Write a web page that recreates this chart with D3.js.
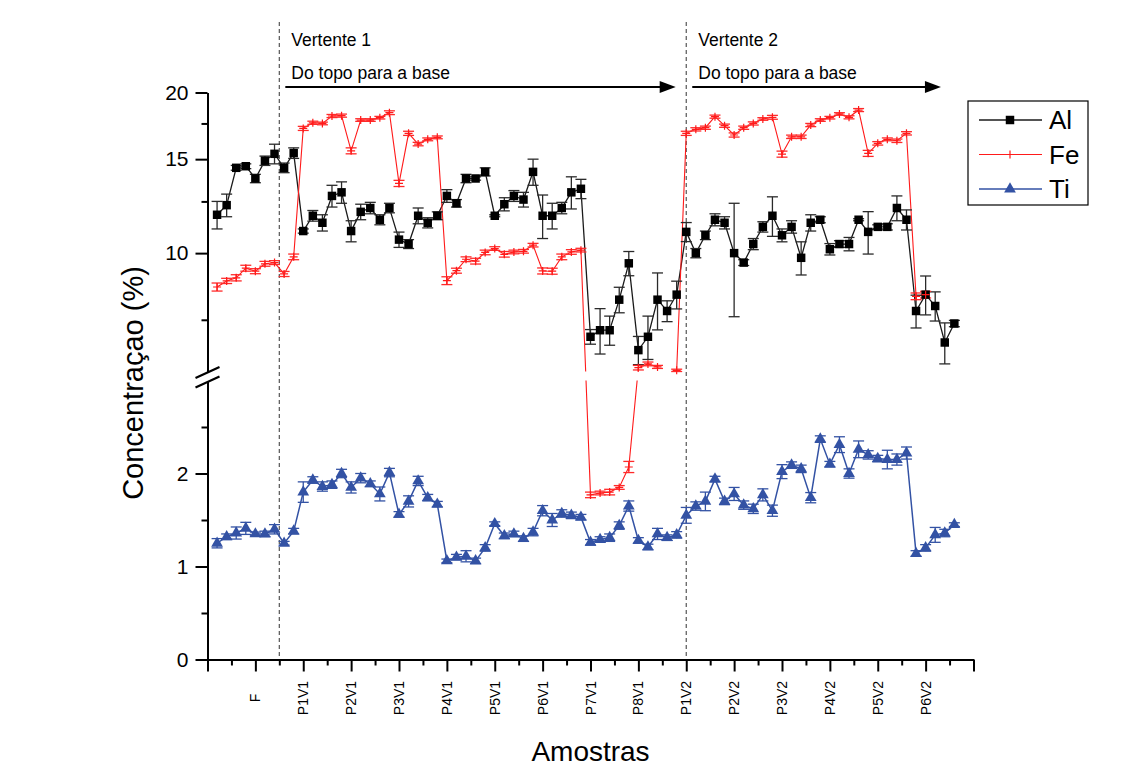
<!DOCTYPE html>
<html>
<head>
<meta charset="utf-8">
<script src="https://cdn.jsdelivr.net/npm/d3@7"></script>
<style>
  body { margin: 0; background: #ffffff; }
  text { font-family: "Liberation Sans", Arial, sans-serif; fill: #000; }
</style>
</head>
<body>
<svg id="chart" width="1124" height="769"></svg>
<script>
// Concentration (%) per sample, in sample order (1..78)
const al = [11.8, 12.3, 14.45, 14.55, 13.8, 14.9, 15.35, 14.45, 15.4, 11.0,
  11.75, 11.4, 12.8, 13.0, 11.0, 11.95, 12.15, 11.55, 12.15, 10.6,
  10.4, 11.75, 11.4, 11.75, 12.8, 12.4, 13.8, 13.8, 14.2, 11.75,
  12.35, 12.8, 12.6, 14.2, 11.75, 11.75, 12.15, 13.0, 13.2, 6.97,
  7.17, 7.17, 8.18, 9.57, 6.58, 6.97, 8.18, 7.79, 8.36, 10.96,
  10.0, 10.8, 11.55, 11.4, 10.0, 9.6, 10.4, 11.2, 11.75, 10.8,
  11.2, 9.8, 11.4, 11.55, 10.17, 10.4, 10.4, 11.55, 10.96, 11.2,
  11.2, 12.15, 11.55, 7.79, 8.36, 7.96, 6.8, 7.38];
const alErr = [0.7, 0.6, 0.15, 0.15, 0.25, 0.3, 0.65, 0.3, 0.35, 0.1,
  0.27, 0.4, 0.6, 0.6, 0.5, 0.4, 0.3, 0.25, 0.25, 0.35,
  0.2, 0.4, 0.25, 0.2, 0.35, 0.2, 0.25, 0.1, 0.25, 0.05,
  0.35, 0.3, 0.4, 0.8, 1.1, 0.65, 0.3, 0.9, 0.55, 0.22,
  0.7, 0.45, 0.45, 0.5, 0.4, 0.65, 1.0, 0.35, 0.5, 0.45,
  0.2, 0.2, 0.3, 0.3, 2.4, 0.12, 0.25, 0.25, 1.0, 0.3,
  0.3, 0.7, 0.4, 0.15, 0.25, 0.15, 0.3, 0.05, 1.0, 0.1,
  0.15, 0.65, 0.5, 0.55, 0.7, 0.5, 0.6, 0.1];

const fe = [8.64, 8.87, 8.99, 9.37, 9.25, 9.55, 9.6, 9.14, 9.84, 17.13,
  17.55, 17.5, 18.07, 18.1, 15.55, 17.76, 17.76, 17.94, 18.33, 13.51,
  16.77, 16.01, 16.34, 16.48, 8.88, 9.27, 9.74, 9.66, 10.03, 10.2,
  9.95, 10.05, 10.08, 10.35, 9.26, 9.25, 9.84, 10.05, 10.13, 1.77,
  1.79, 1.8, 1.85, 2.07, 6.1, 6.2, 6.12, null, 6.03, 16.77,
  17.06, 17.18, 18.02, 17.33, 16.65, 17.18, 17.5, 17.84, 17.97, 15.33,
  16.52, 16.52, 17.38, 17.76, 17.94, 18.23, 17.97, 18.54, 15.38, 16.06,
  16.34, 16.24, 16.77, 8.3, 8.36, null, null, null];
const feErr = [0.15, 0.1, 0.12, 0.12, 0.1, 0.1, 0.08, 0.1, 0.12, 0.15,
  0.12, 0.1, 0.12, 0.12, 0.2, 0.1, 0.1, 0.1, 0.15, 0.18,
  0.15, 0.12, 0.1, 0.1, 0.15, 0.1, 0.1, 0.12, 0.1, 0.08,
  0.12, 0.08, 0.08, 0.08, 0.12, 0.12, 0.12, 0.1, 0.08, 0.03,
  0.02, 0.03, 0.02, 0.06, 0.06, 0.05, 0.04, null, 0.03, 0.15,
  0.12, 0.12, 0.12, 0.12, 0.15, 0.12, 0.12, 0.1, 0.15, 0.2,
  0.12, 0.12, 0.12, 0.1, 0.1, 0.1, 0.12, 0.12, 0.2, 0.12,
  0.1, 0.12, 0.12, 0.12, 0.12, null, null, null];

const ti = [1.25, 1.32, 1.36, 1.41, 1.35, 1.35, 1.40, 1.25, 1.38, 1.80,
  1.93, 1.86, 1.88, 2.00, 1.85, 1.95, 1.89, 1.78, 2.01, 1.56,
  1.70, 1.92, 1.74, 1.67, 1.06, 1.10, 1.11, 1.06, 1.20, 1.46,
  1.33, 1.35, 1.30, 1.37, 1.60, 1.50, 1.57, 1.55, 1.53, 1.26,
  1.29, 1.31, 1.44, 1.65, 1.28, 1.21, 1.35, 1.31, 1.34, 1.55,
  1.65, 1.70, 1.94, 1.70, 1.78, 1.66, 1.62, 1.77, 1.60, 2.02,
  2.09, 2.05, 1.74, 2.37, 2.10, 2.31, 2.00, 2.26, 2.20, 2.16,
  2.15, 2.15, 2.22, 1.14, 1.20, 1.34, 1.36, 1.45];
const tiErr = [0.05, 0.03, 0.065, 0.065, 0.02, 0.03, 0.05, 0.02, 0.03, 0.11,
  0.035, 0.05, 0.04, 0.045, 0.06, 0.05, 0.03, 0.075, 0.045, 0.03,
  0.06, 0.05, 0.035, 0.03, 0.02, 0.03, 0.06, 0.03, 0.035, 0.02,
  0.03, 0.03, 0.03, 0.04, 0.055, 0.07, 0.04, 0.035, 0.03, 0.03,
  0.03, 0.04, 0.04, 0.055, 0.03, 0.03, 0.06, 0.03, 0.035, 0.085,
  0.045, 0.1, 0.03, 0.035, 0.07, 0.045, 0.05, 0.065, 0.06, 0.075,
  0.035, 0.04, 0.055, 0.035, 0.03, 0.085, 0.05, 0.09, 0.045, 0.035,
  0.1, 0.06, 0.065, 0.03, 0.035, 0.08, 0.04, 0.02];

// Sample groups along the x axis
const sampleLabels = ["F", "P1V1", "P2V1", "P3V1", "P4V1", "P5V1", "P6V1", "P7V1", "P8V1",
  "P1V2", "P2V2", "P3V2", "P4V2", "P5V2", "P6V2"];
const labelPositions = [5, 10, 15, 20, 25, 30, 35, 40, 45, 50, 55, 60, 65, 70, 75];
const majorXTicks = [0, 5, 10, 15, 20, 25, 30, 35, 40, 45, 50, 55, 60, 65, 70, 75, 80];
const minorXTicks = [2.5, 7.5, 12.5, 17.5, 22.5, 27.5, 32.5, 37.5, 42.5, 47.5, 52.5, 57.5, 62.5, 67.5, 72.5, 77.5];

// Slope sections (vertentes) and their start positions
const slopeNames = ["Vertente 1", "Vertente 2"];
const slopeStarts = [7.5, 50];
const slopeArrowEnds = [48.9, 76.6];
const slopeCaption = "Do topo para a base";

// Axis ticks for the broken y axis
const upperMajor = [10, 15, 20];
const upperMinor = [7.5, 12.5, 17.5];
const lowerMajor = [0, 1, 2];
const lowerMinor = [0.5, 1.5, 2.5];

const svg = d3.select("#chart");
const defs = svg.append("defs");

const x = d3.scaleLinear().domain([0, 80]).range([207.5, 973.5]);
const yHigh = d3.scaleLog().domain([6, 20]).range([371.5, 92.5]);
const yLow = d3.scaleLinear().domain([0, 3]).range([659.5, 380.5]);
function y(v) {
  if (v >= 6) return yHigh(v);
  if (v <= 3) return yLow(v);
  const t = (v - 3) / 3;
  return yLow(3) + t * (yHigh(6) - yLow(3));
}

// Lines are hidden inside the axis break
const clip = defs.append("clipPath").attr("id", "breakClip");
clip.append("rect").attr("x", 0).attr("y", 0).attr("width", 1124).attr("height", yHigh(6));
clip.append("rect").attr("x", 0).attr("y", yLow(3)).attr("width", 1124).attr("height", 769 - yLow(3));

const series = [
  { name: "Al", values: al, err: alErr, line: "#1a1a1a", bar: "#2a2a2a", fill: "#000", marker: "square", lw: 1.3 },
  { name: "Fe", values: fe, err: feErr, line: "#ff1a1a", bar: "#ff2a2a", fill: "#ff1a1a", marker: "plus", lw: 1.1 },
  { name: "Ti", values: ti, err: tiErr, line: "#3352a4", bar: "#3352a4", fill: "#3352a4", marker: "triangle", lw: 1.5 }
];

// Slope separators
slopeStarts.forEach(s => {
  svg.append("line")
    .attr("x1", x(s)).attr("x2", x(s))
    .attr("y1", 22).attr("y2", yLow(0))
    .attr("stroke", "#555").attr("stroke-width", 1.2)
    .attr("stroke-dasharray", "4,3");
});

// Slope captions and direction arrows
slopeStarts.forEach((s, k) => {
  const gx = x(s) + 12;
  svg.append("text").attr("x", gx).attr("y", 46).attr("font-size", 17.5).text(slopeNames[k]);
  svg.append("text").attr("x", gx).attr("y", 79).attr("font-size", 17.5).text(slopeCaption);
  const x0 = x(s) + 6, x1 = x(slopeArrowEnds[k]);
  svg.append("line").attr("x1", x0).attr("x2", x1 - 14).attr("y1", 87).attr("y2", 87)
    .attr("stroke", "#000").attr("stroke-width", 2);
  svg.append("path")
    .attr("d", `M${x1},87 L${x1 - 16},81 L${x1 - 16},93 Z`)
    .attr("fill", "#000");
});

// Lines
const lineGen = d3.line()
  .defined(d => d.v != null)
  .x(d => x(d.i))
  .y(d => y(d.v));

const prepared = series.map(s => ({
  ...s,
  pts: s.values.map((v, k) => ({ i: k + 1, v: v, e: s.err[k] }))
}));

prepared.forEach(s => {
  svg.append("path")
    .datum(s.pts)
    .attr("d", lineGen)
    .attr("fill", "none")
    .attr("stroke", s.line)
    .attr("stroke-width", s.lw)
    .attr("clip-path", "url(#breakClip)");
});

// Error bars
prepared.forEach(s => {
  const g = svg.append("g").attr("stroke", s.bar).attr("stroke-width", 1.3).attr("fill", "none");
  s.pts.filter(d => d.v != null).forEach(d => {
    const cx = x(d.i), yt = y(d.v + d.e), yb = y(d.v - d.e);
    g.append("line").attr("x1", cx).attr("x2", cx).attr("y1", yt).attr("y2", yb);
    g.append("line").attr("x1", cx - 5.5).attr("x2", cx + 5.5).attr("y1", yt).attr("y2", yt);
    g.append("line").attr("x1", cx - 5.5).attr("x2", cx + 5.5).attr("y1", yb).attr("y2", yb);
  });
});

// Markers
function drawMarker(g, kind, cx, cy, s) {
  if (kind === "square") {
    g.append("path").attr("d", d3.symbol(d3.symbolSquare, 72)())
      .attr("transform", `translate(${cx},${cy})`).attr("fill", s.fill);
  } else if (kind === "triangle") {
    g.append("path").attr("d", d3.symbol(d3.symbolTriangle, 60)())
      .attr("transform", `translate(${cx},${cy})`).attr("fill", s.fill);
  } else {
    g.append("path").attr("d", `M${cx - 4},${cy} H${cx + 4} M${cx},${cy - 4} V${cy + 4}`)
      .attr("stroke", s.fill).attr("stroke-width", 1.2);
  }
}
prepared.forEach(s => {
  const g = svg.append("g");
  s.pts.filter(d => d.v != null).forEach(d => drawMarker(g, s.marker, x(d.i), y(d.v), s));
});

// Y axis (broken: log upper section, linear lower section)
function styleAxis(g) {
  g.selectAll(".domain").attr("stroke", "#000").attr("stroke-width", 2);
  g.selectAll(".tick line").attr("stroke", "#000").attr("stroke-width", 2);
  g.selectAll(".tick text").attr("font-size", 21).attr("font-family", "Liberation Sans, Arial, sans-serif");
}
const axX = x(0);
svg.append("g").attr("transform", `translate(${axX},0)`)
  .call(d3.axisLeft(yHigh).tickValues(upperMajor).tickSize(12).tickSizeOuter(0).tickPadding(7).tickFormat(d3.format("d")))
  .call(styleAxis);
svg.append("g").attr("transform", `translate(${axX},0)`)
  .call(d3.axisLeft(yHigh).tickValues(upperMinor).tickSize(6).tickSizeOuter(0).tickFormat(""))
  .call(styleAxis);
svg.append("g").attr("transform", `translate(${axX},0)`)
  .call(d3.axisLeft(yLow).tickValues(lowerMajor).tickSize(12).tickSizeOuter(0).tickPadding(7).tickFormat(d3.format("d")))
  .call(styleAxis);
svg.append("g").attr("transform", `translate(${axX},0)`)
  .call(d3.axisLeft(yLow).tickValues(lowerMinor).tickSize(6).tickSizeOuter(0).tickFormat(""))
  .call(styleAxis);

// Break symbol
[yHigh(6) + 1, yLow(3) + 1.5].forEach(cy => {
  svg.append("line")
    .attr("x1", axX - 12).attr("y1", cy + 5.5)
    .attr("x2", axX + 12).attr("y2", cy - 5.5)
    .attr("stroke", "#000").attr("stroke-width", 2.2);
});

// X axis
const axisY = yLow(0);
svg.append("g").attr("transform", `translate(0,${axisY})`)
  .call(d3.axisBottom(x).tickValues(majorXTicks).tickSize(12).tickSizeOuter(0).tickFormat(""))
  .call(styleAxis);
svg.append("g").attr("transform", `translate(0,${axisY})`)
  .call(d3.axisBottom(x).tickValues(minorXTicks).tickSize(6).tickSizeOuter(0).tickFormat(""))
  .call(styleAxis);

labelPositions.forEach((p, k) => {
  svg.append("text")
    .attr("transform", `translate(${x(p) + 5},${698}) rotate(-90)`)
    .attr("text-anchor", "middle")
    .attr("font-size", 14)
    .text(sampleLabels[k]);
});

// Axis titles
svg.append("text")
  .attr("transform", `translate(143,${(yHigh(20) + yLow(0)) / 2 + 7}) rotate(-90)`)
  .attr("text-anchor", "middle").attr("font-size", 29)
  .text("Concentraçao (%)");
svg.append("text")
  .attr("x", (x(0) + x(80)) / 2).attr("y", 761)
  .attr("text-anchor", "middle").attr("font-size", 28)
  .text("Amostras");

// Legend
const lg = svg.append("g").attr("transform", "translate(968,101)");
lg.append("rect").attr("width", 120).attr("height", 104)
  .attr("fill", "#fff").attr("stroke", "#000").attr("stroke-width", 1.2);
prepared.forEach((s, k) => {
  const ly = 19 + k * 34.5;
  lg.append("line").attr("x1", 11).attr("x2", 74).attr("y1", ly).attr("y2", ly)
    .attr("stroke", s.line).attr("stroke-width", s.lw);
  if (s.marker === "plus") {
    lg.append("line").attr("x1", 42).attr("x2", 42).attr("y1", ly - 4).attr("y2", ly + 4)
      .attr("stroke", s.fill).attr("stroke-width", 1.2);
  } else {
    drawMarker(lg, s.marker, 42, ly, s);
  }
  lg.append("text").attr("x", 81).attr("y", ly + 9).attr("font-size", 26).text(s.name);
});
</script>
</body>
</html>
